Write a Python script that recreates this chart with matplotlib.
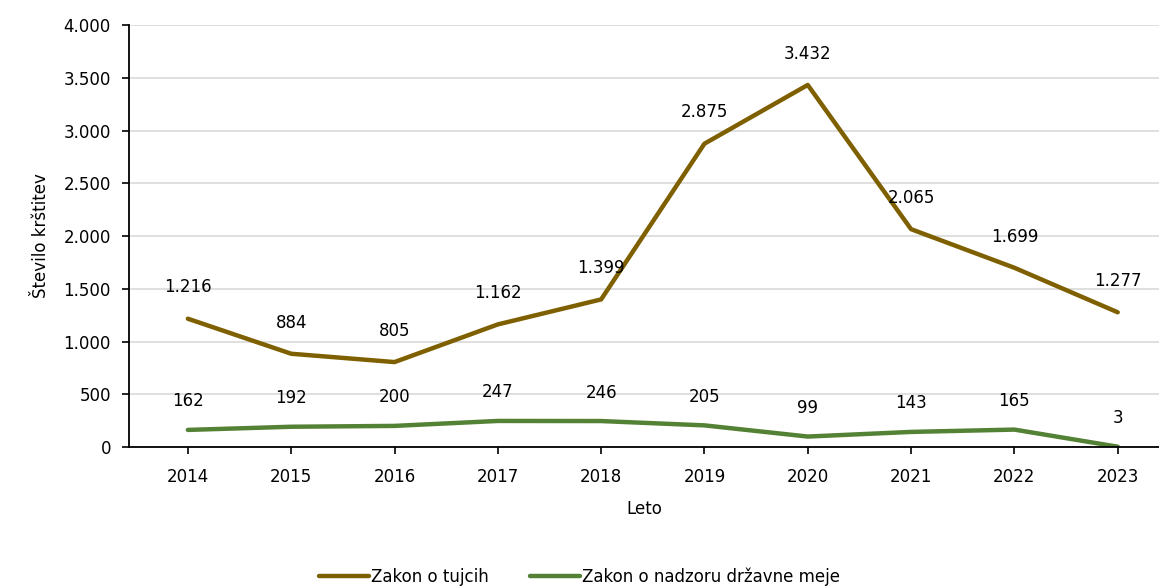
import matplotlib.pyplot as plt
from matplotlib.ticker import FuncFormatter

years = ["2014", "2015", "2016", "2017", "2018", "2019", "2020", "2021", "2022", "2023"]
zakon_tujci = [1216, 884, 805, 1162, 1399, 2875, 3432, 2065, 1699, 1277]
zakon_meja = [162, 192, 200, 247, 246, 205, 99, 143, 165, 3]


def fmt(v):
    return f"{v:,.0f}".replace(",", ".")


plt.rcParams["font.family"] = ["DejaVu Sans"]
plt.rcParams["font.size"] = 12

fig = plt.figure(figsize=(11.59, 5.86), dpi=100)
ax = fig.add_axes([0.1113, 0.2372, 0.8887, 0.7201])

x = list(range(len(years)))
ax.plot(x, zakon_tujci, color="#7F6000", linewidth=3.2, label="Zakon o tujcih",
        solid_capstyle="round")
ax.plot(x, zakon_meja, color="#548235", linewidth=3.2, label="Zakon o nadzoru državne meje",
        solid_capstyle="round")

for xi, v in zip(x, zakon_tujci):
    ax.annotate(fmt(v), (xi, v), xytext=(0, 16), textcoords="offset points",
                ha="center", va="bottom", fontsize=12)
for xi, v in zip(x, zakon_meja):
    ax.annotate(fmt(v), (xi, v), xytext=(0, 14), textcoords="offset points",
                ha="center", va="bottom", fontsize=12)

ax.set_ylim(0, 4000)
ax.set_xlim(-0.57, 9.40)
ax.set_yticks(range(0, 4001, 500))
ax.yaxis.set_major_formatter(FuncFormatter(lambda v, p: fmt(v)))
ax.set_xticks(x)
ax.set_xticklabels(years)

ax.grid(axis="y", color="#D9D9D9", linewidth=1.2)
ax.set_axisbelow(True)
for s in ["top", "right"]:
    ax.spines[s].set_visible(False)
for s in ["left", "bottom"]:
    ax.spines[s].set_linewidth(1.3)
ax.tick_params(axis="y", direction="out", length=5, width=1.2, labelsize=12, pad=8)
ax.tick_params(axis="x", direction="out", length=5, width=1.2, labelsize=12, pad=10)

ax.set_xlabel("Leto", fontsize=12, labelpad=10)
ax.set_ylabel("Število krštitev", fontsize=12, labelpad=10)

fig.legend(loc="lower center", bbox_to_anchor=(0.5, -0.025), ncol=2, frameon=False,
           fontsize=12, handlelength=3, handletextpad=0.1, columnspacing=2.5)

fig.savefig("out.png", dpi=100)
